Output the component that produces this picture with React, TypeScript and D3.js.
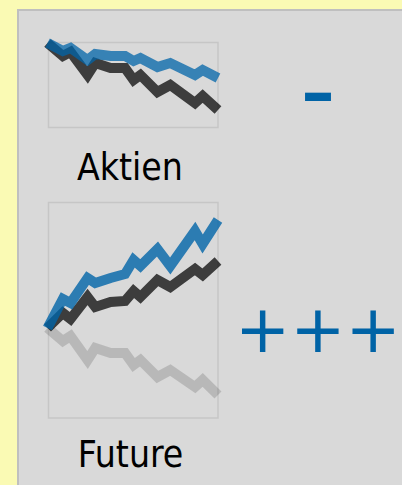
import React from "react";
import * as d3 from "d3";

// time axis (relative position within period, 0..100)
const timePoints = [0, 9, 13.5, 23.5, 28, 37, 45.5, 50.5, 54.5, 64.5, 72, 86.5, 91, 100];

// Aktien panel
const aktienMarkt = [0, -13, -9, -32, -20, -25, -25, -37, -32, -49, -42, -60, -53, -67];
const aktienFonds = [0, -8, -5, -17, -11, -13, -13, -18, -15, -24, -20, -32, -27, -35];

// Future panel
const futureMarkt = [0, -13, -8, -32, -20, -25, -25, -37, -32, -49, -42, -59, -52, -67];
const futureShort = [0, 15, 9, 31, 21, 26, 27, 37, 31, 48, 41, 59, 53, 67];
const futureFonds = [0, 29, 25, 50, 45, 50, 54, 68, 62, 79, 62, 97, 84, 108];

const panelLabels = ["Aktien", "Future"];
const ratings = ["–", "+++"];

const W = 402;
const H = 485;

const BLUE = "#0064a8";
const SYMBOL = "#0063a6";

function Lines({
  yScale,
  series,
}: {
  yScale: d3.ScaleLinear<number, number>;
  series: { values: number[]; color: string; opacity: number }[];
}) {
  const x = d3.scaleLinear().domain([0, 100]).range([47.5, 218]);
  return (
    <g>
      {series.map((s, i) => {
        const line = d3
          .line<number>()
          .x((_, j) => x(timePoints[j]))
          .y((d) => yScale(d));
        return (
          <path
            key={i}
            d={line(s.values) || ""}
            fill="none"
            stroke={s.color}
            strokeOpacity={s.opacity}
            strokeWidth={10}
            strokeLinejoin="miter"
            strokeLinecap="butt"
          />
        );
      })}
    </g>
  );
}

export default function App() {
  const yAktien = d3.scaleLinear().domain([-84, 1]).range([127, 42]);
  const yFuture = d3.scaleLinear().domain([-90, 126]).range([418, 202]);
  const labelFont = "'DejaVu Sans Condensed', 'DejaVu Sans', sans-serif";
  return (
    <svg
      width={W}
      height={H}
      style={{ position: "absolute", left: 0, top: 0, display: "block" }}
    >
      <rect x={0} y={0} width={W} height={H} fill="#fafab4" />
      <rect x={18} y={10} width={400} height={500} fill="#d9d9d9" stroke="#bfbfbf" strokeWidth={2} />

      {/* Aktien */}
      <rect x={48.5} y={42.5} width={169.5} height={85} fill="none" stroke="#c6c6c6" strokeWidth={1.5} />
      <Lines
        yScale={yAktien}
        series={[
          { values: aktienMarkt, color: "#000", opacity: 0.72 },
          { values: aktienFonds, color: BLUE, opacity: 0.75 },
        ]}
      />
      <text x={130} y={180} textAnchor="middle" fontFamily={labelFont} fontSize={37} fill="#000">
        {panelLabels[0]}
      </text>
      <text x={318} y={115} textAnchor="middle" fontFamily="'DejaVu Sans', sans-serif" fontWeight="bold" fontSize={66} fill={SYMBOL}>
        {ratings[0]}
      </text>

      {/* Future */}
      <rect x={48.5} y={202.5} width={169.5} height={215.5} fill="none" stroke="#c6c6c6" strokeWidth={1.5} />
      <Lines
        yScale={yFuture}
        series={[
          { values: futureMarkt, color: "#000", opacity: 0.15 },
          { values: futureShort, color: "#000", opacity: 0.72 },
          { values: futureFonds, color: BLUE, opacity: 0.8 },
        ]}
      />
      <text x={130.5} y={466.7} textAnchor="middle" fontFamily={labelFont} fontSize={37} fill="#000">
        {panelLabels[1]}
      </text>
      <text x={235} y={352} fontFamily="'DejaVu Sans', sans-serif" fontSize={66} fill={SYMBOL}>
        {ratings[1]}
      </text>
    </svg>
  );
}
